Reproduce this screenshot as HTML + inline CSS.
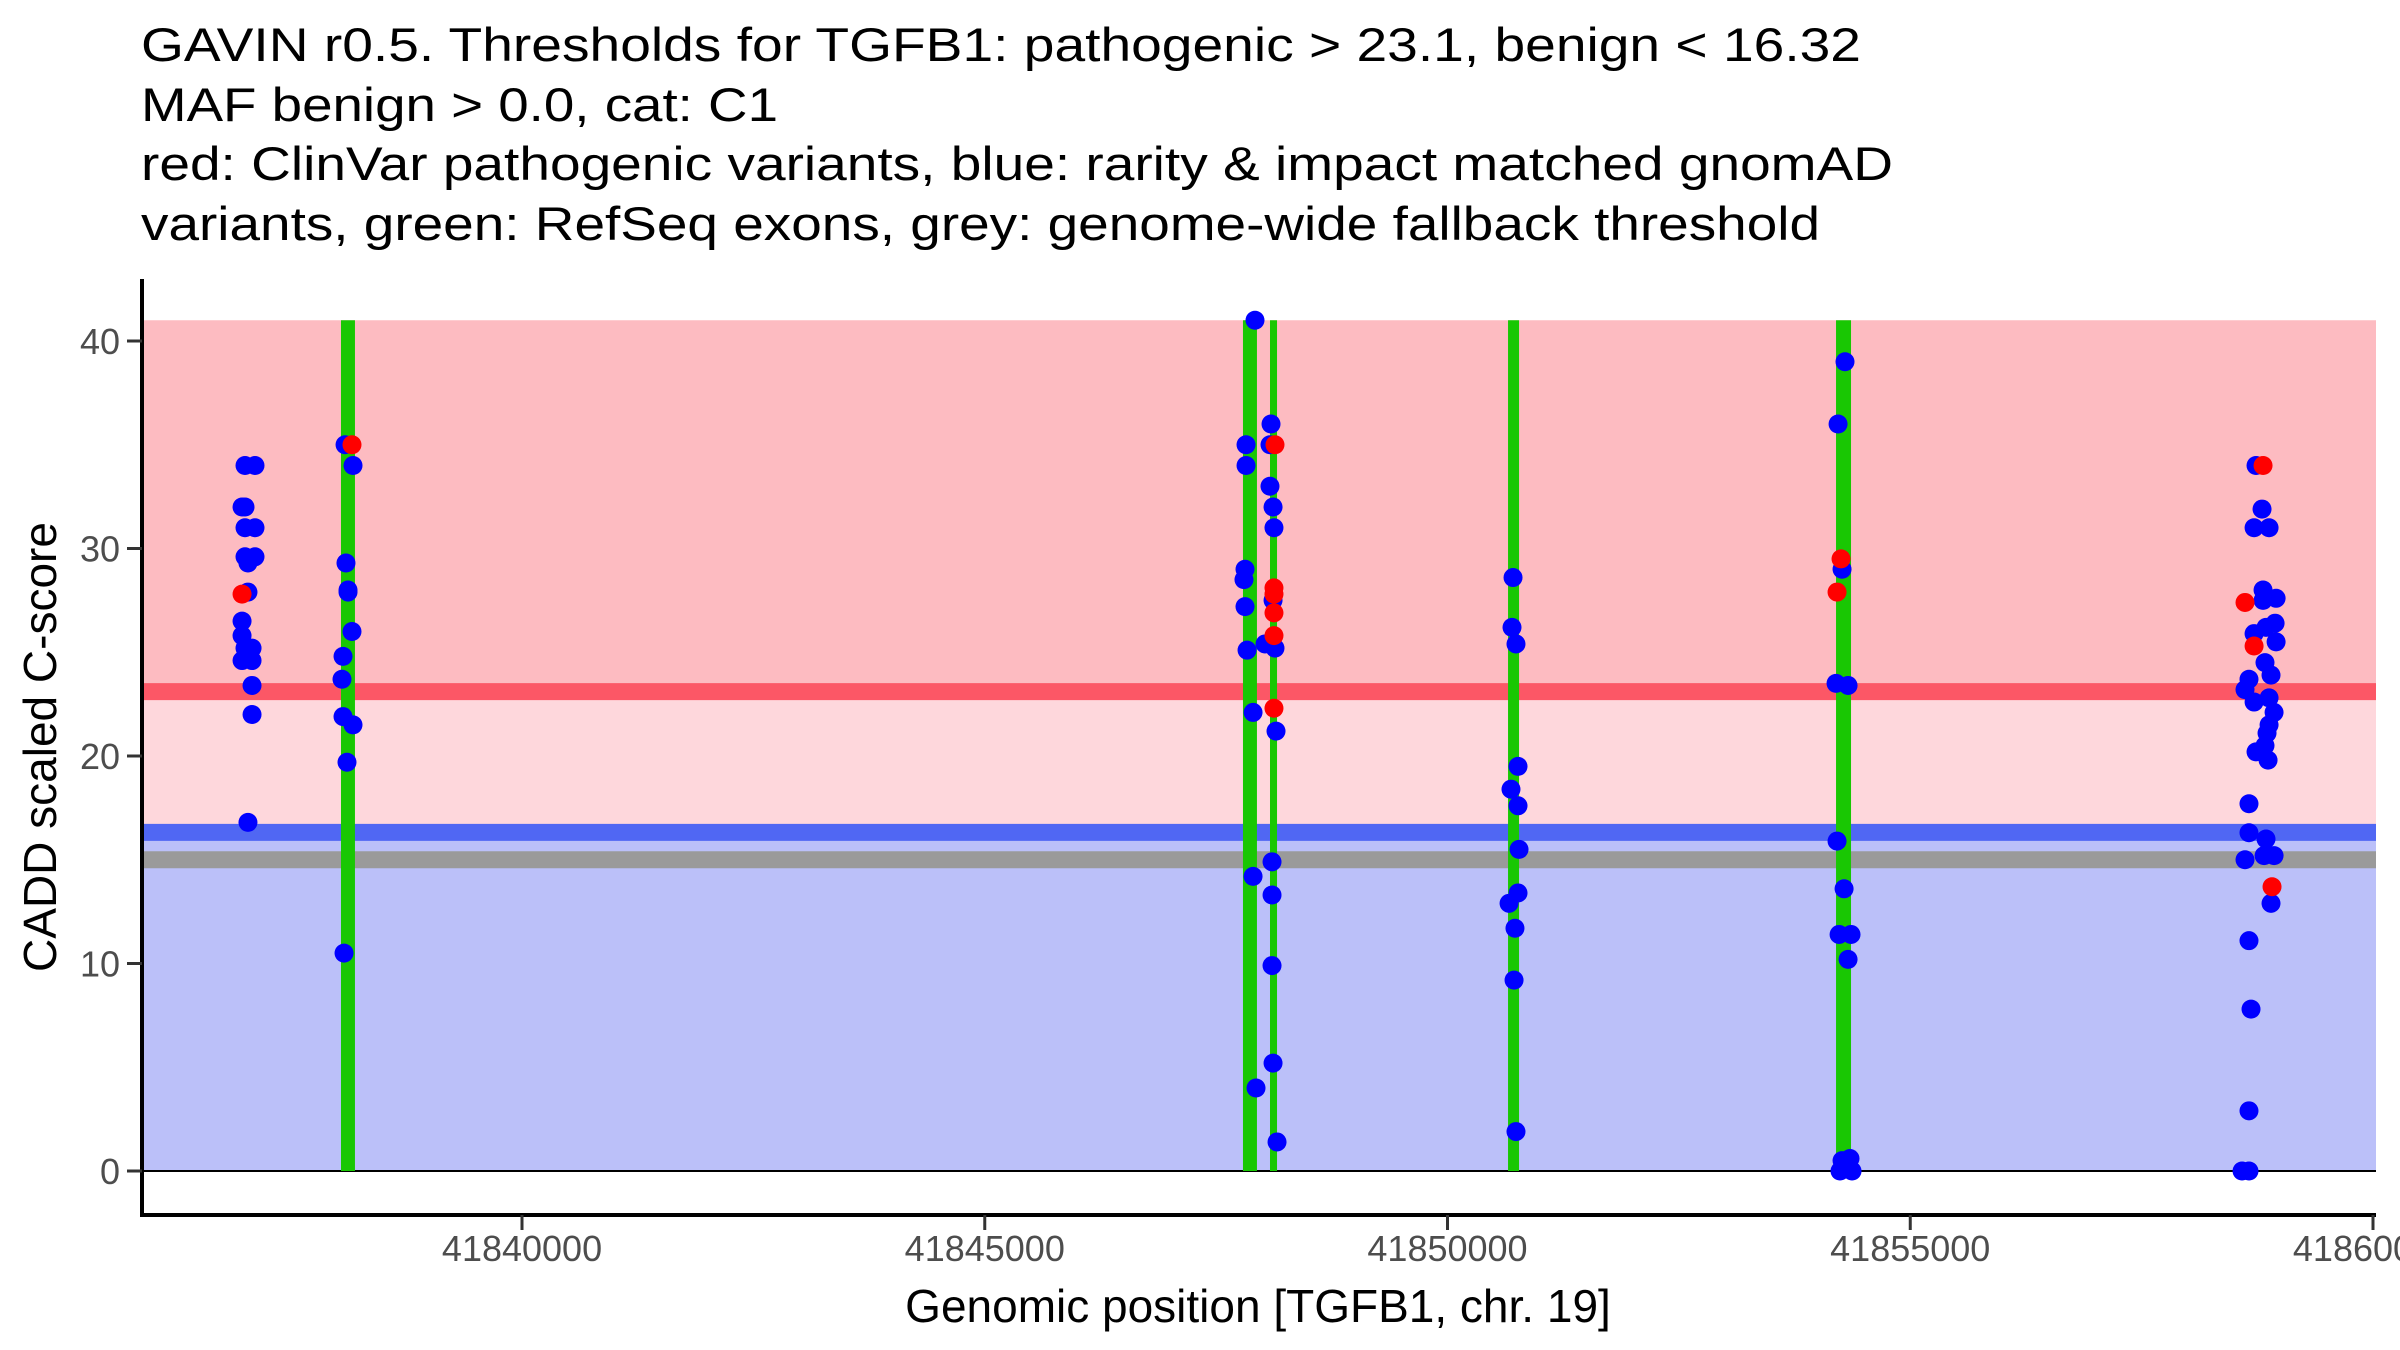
<!DOCTYPE html>
<html><head><meta charset="utf-8"><style>
html,body{margin:0;padding:0;background:#fff;}
svg{display:block;font-family:"Liberation Sans",Arial,sans-serif;}
</style></head><body>
<svg id="chart" width="2400" height="1350" viewBox="0 0 2400 1350" xmlns="http://www.w3.org/2000/svg">
<g font-size="47" fill="#000">
<text x="141" y="61" textLength="1720" lengthAdjust="spacingAndGlyphs">GAVIN r0.5. Thresholds for TGFB1: pathogenic &gt; 23.1, benign &lt; 16.32</text>
<text x="141" y="121" textLength="637" lengthAdjust="spacingAndGlyphs">MAF benign &gt; 0.0, cat: C1</text>
<text x="141" y="180" textLength="1752" lengthAdjust="spacingAndGlyphs">red: ClinVar pathogenic variants, blue: rarity &amp; impact matched gnomAD</text>
<text x="141" y="240" textLength="1679" lengthAdjust="spacingAndGlyphs">variants, green: RefSeq exons, grey: genome-wide fallback threshold</text>
</g>
<g id="plot"></g>
<text x="1258" y="1322" font-size="46" text-anchor="middle" fill="#000">Genomic position [TGFB1, chr. 19]</text>
<text transform="translate(56,747) rotate(-90)" font-size="46" text-anchor="middle" fill="#000">CADD scaled C-score</text>
</svg>
<script>
const pathogenicThreshold = 23.1;
const benignThreshold = 16.32;
const fallbackThreshold = 15;
const maxScore = 41;
const xTicks = [41840000, 41845000, 41850000, 41855000, 41860000];
const yTicks = [0, 10, 20, 30, 40];
const exonStarts = [41838044, 41847790, 41848082, 41850654, 41854198];
const exonEnds = [41838195, 41847941, 41848158, 41850773, 41854360];
const benignPos = [
41837007,41837115,41837007,41836975,41837007,41837115,41837007,41837115,41837039,41837039,41836975,41836975,41837007,41837083,41836975,41837083,41837083,41837083,41837039,
41838088,41838174,41838098,41838120,41838120,41838163,41838066,41838055,41838066,41838174,41838109,41838077,
41847920,41848093,41847823,41848082,41847823,41848082,41848115,41848125,41847812,41847801,41848115,41847812,41848028,41848136,41847834,41847899,41848147,41848104,41847899,41848104,41848104,41848115,41847931,41848158,
41850708,41850697,41850740,41850762,41850686,41850762,41850773,41850762,41850665,41850729,41850719,41850740,
41854295,41854220,41854263,41854198,41854328,41854209,41854285,41854231,41854360,41854328,41854263,41854349,41854241,41854371,
41858736,41858801,41858715,41858877,41858812,41858812,41858953,41858942,41858715,41858844,41858953,41858833,41858898,41858660,41858617,41858715,41858877,41858931,41858877,41858855,41858833,41858736,41858866,41858660,41858660,41858844,41858617,41858823,41858931,41858898,41858660,41858682,41858660,41858585,41858660
];
const benignScore = [
34.0,34.0,32.0,32.0,31.0,31.0,29.6,29.6,29.3,27.9,26.5,25.8,25.2,25.2,24.6,24.6,23.4,22.0,16.8,
35.0,34.0,29.3,28.0,27.9,26.0,24.8,23.7,21.9,21.5,19.7,10.5,
41.0,36.0,35.0,35.0,34.0,33.0,32.0,31.0,29.0,28.5,27.5,27.2,25.4,25.2,25.1,22.1,21.2,14.9,14.2,13.3,9.9,5.2,4.0,1.4,
28.6,26.2,25.4,19.5,18.4,17.6,15.5,13.4,12.9,11.7,9.2,1.9,
39.0,36.0,29.0,23.5,23.4,15.9,13.6,11.4,11.4,10.2,0.5,0.6,0,0,
34.0,31.9,31.0,31.0,28.0,27.5,27.6,26.4,25.9,26.2,25.5,24.5,23.9,23.7,23.2,22.6,22.8,22.1,21.5,21.1,20.5,20.2,19.8,17.7,16.3,16.0,15.0,15.2,15.2,12.9,11.1,7.8,2.9,0,0
];
const pathoPos = [41836975,41838163,41848136,41848125,41848125,41848125,41848125,41848125,41854252,41854209,41858812,41858617,41858715,41858909];
const pathoScore = [27.8,35.0,35.0,28.1,27.8,26.9,25.8,22.3,29.5,27.9,34.0,27.4,25.3,13.7];

const X0 = 142, X1 = 2376, Y0 = 1171, PX_PER_UNIT = 20.75;
const xMin = 41835894, xPerPx = 10.805;
function xs(g){ return X0 + (g - xMin) / xPerPx; }
function ys(v){ return Y0 - v * PX_PER_UNIT; }
const NS = 'http://www.w3.org/2000/svg';
const plot = document.getElementById('plot');
function mk(tag, attrs){ const e = document.createElementNS(NS, tag); for (const k in attrs) e.setAttribute(k, attrs[k]); plot.appendChild(e); return e; }
let e;
e = mk('rect',{x:X0,y:ys(maxScore),width:X1-X0,height:ys(pathogenicThreshold)-ys(maxScore),fill:'#FDBBC1'});


e = mk('rect',{x:X0,y:ys(pathogenicThreshold),width:X1-X0,height:ys(benignThreshold)-ys(pathogenicThreshold),fill:'#FED7DC'});


e = mk('rect',{x:X0,y:ys(benignThreshold),width:X1-X0,height:ys(0)-ys(benignThreshold),fill:'#BBC0F9'});


e = mk('line',{x1:X0,x2:X1,y1:ys(pathogenicThreshold),y2:ys(pathogenicThreshold),stroke:'#FC5766','stroke-width':17});


e = mk('line',{x1:X0,x2:X1,y1:ys(benignThreshold),y2:ys(benignThreshold),stroke:'#5067F3','stroke-width':17});


e = mk('line',{x1:X0,x2:X1,y1:ys(fallbackThreshold),y2:ys(fallbackThreshold),stroke:'#9A9A9A','stroke-width':17});


e = mk('line',{x1:X0,x2:X1,y1:ys(0),y2:ys(0),stroke:'#000','stroke-width':2});


for (let i = 0; i < exonStarts.length; i++) {
  const a = xs(exonStarts[i]), b = xs(exonEnds[i]);
  e = mk('rect',{x:a,y:ys(maxScore),width:b-a,height:ys(0)-ys(maxScore),fill:'#19C703'});
  
  
}
for (let i = 0; i < benignPos.length; i++) {
  e = mk('circle',{cx:xs(benignPos[i]),cy:ys(benignScore[i]),r:9.5,fill:'#0000FF'});
  
  
}
for (let i = 0; i < pathoPos.length; i++) {
  e = mk('circle',{cx:xs(pathoPos[i]),cy:ys(pathoScore[i]),r:9.5,fill:'#FF0000'});
  
  
}
e = mk('line',{x1:X0,x2:X0,y1:279,y2:1217,stroke:'#000','stroke-width':4});


e = mk('line',{x1:X0-2,x2:X1,y1:1215,y2:1215,stroke:'#000','stroke-width':4});


for (const t of yTicks) {
  e = mk('line',{x1:X0-15,x2:X0,y1:ys(t),y2:ys(t),stroke:'#333','stroke-width':3});
  
  
  e = mk('text',{x:X0-22,y:ys(t)+13,'font-size':36,'text-anchor':'end',fill:'#4d4d4d'});
  e.textContent = String(t);
  
  
}
for (const t of xTicks) {
  e = mk('line',{x1:xs(t),x2:xs(t),y1:1215,y2:1230,stroke:'#333','stroke-width':3});
  
  
  e = mk('text',{x:xs(t),y:1261,'font-size':36,'text-anchor':'middle',fill:'#4d4d4d'});
  e.textContent = String(t);
  
  
}
</script>
</body></html>
